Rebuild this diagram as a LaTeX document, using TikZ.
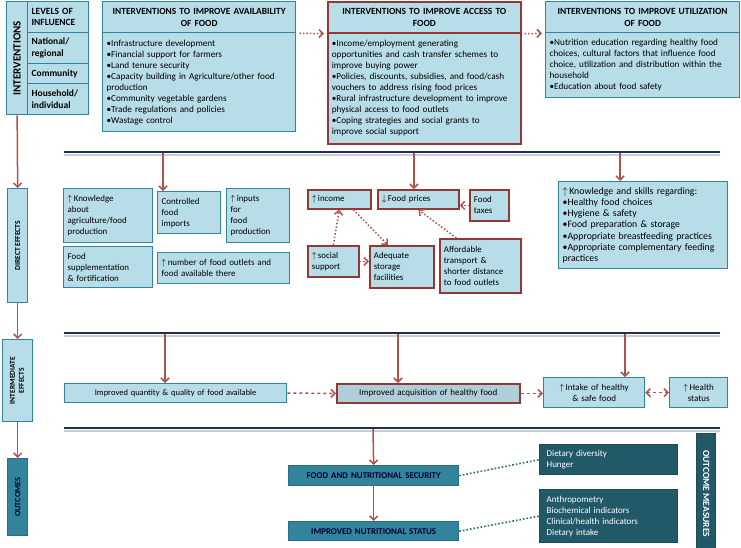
\documentclass[tikz,border=0pt]{standalone}
\usepackage{fontspec}
\setmainfont{Carlito}
\usepackage{graphicx}
\usetikzlibrary{positioning, arrows.meta}
\definecolor{boxfill}{HTML}{B7DDE8}
\definecolor{boxline}{HTML}{31859C}
\definecolor{redline}{HTML}{953735}
\definecolor{arrred}{HTML}{B4504B}
\definecolor{navy}{HTML}{1F2F5C}
\definecolor{midteal}{HTML}{31849B}
\definecolor{darkteal}{HTML}{215968}

\begin{document}
\begin{tikzpicture}[x=1pt, y=-1pt,
    box/.style={
      draw=boxline, line width=1.3pt, fill=boxfill, anchor=north west,
      inner xsep=4pt, inner ysep=1pt, align=left,
      font=\fontsize{9.2}{11}\selectfont
    },
    rbox/.style={box, draw=redline, line width=1.7pt},
    head/.style={box, align=center, font=\bfseries\fontsize{9.4}{12}\selectfont},
    lvlbox/.style={box, text width=53pt, font=\bfseries\fontsize{9.5}{11.5}\selectfont},
    side/.style={box, inner sep=0pt, align=center, font=\bfseries\fontsize{7.5}{9}\selectfont},
    obox/.style={box, fill=midteal, draw=midteal!85!black, text=black!80!blue,
      align=center, font=\bfseries\fontsize{8.9}{10}\selectfont},
    mbox/.style={box, fill=darkteal, draw=darkteal!85!black, text=white,
      inner xsep=7pt, font=\fontsize{9}{11}\selectfont},
    arr/.style={-{Straight Barb[length=4pt, width=8pt]}, arrred, line width=1.5pt},
    dotarr/.style={arr, dotted},
    dasharr/.style={arr, dashed},
    link/.style={boxline!80!black, line width=1.6pt, dotted},
  ]
  \useasboundingbox (0,0) rectangle (741,547);

  % interventions
  \node[side, font=\bfseries\fontsize{11}{12}\selectfont, minimum width=21pt, minimum height=113pt] (intv) at (6,1) {\rotatebox{90}{INTERVENTIONS}};
  \node[lvlbox, minimum height=31pt] (lvl) at (27,1) {LEVELS OF\\INFLUENCE};
  \node[lvlbox, minimum height=31pt] (natl) at (27,32) {National/\\regional};
  \node[lvlbox, minimum height=20pt] (comm) at (27,63) {Community};
  \node[lvlbox, minimum height=31pt] (hh) at (27,83) {Household/\\individual};

  \node[head, text width=185pt, minimum height=31pt] (avh) at (102,1) {INTERVENTIONS TO IMPROVE AVAILABILITY\\OF FOOD};
  \node[box, text width=185pt, minimum height=99pt] (avb) at (102,32) {%
    •Infrastructure development\\•Financial support for farmers\\•Land tenure security\\
    •Capacity building in Agriculture/other food\\production\\•Community vegetable gardens\\
    •Trade regulations and policies\\•Wastage control};
  \node[head, draw=redline, line width=1.7pt, text width=185pt, minimum height=31pt] (ach) at (327,1) {INTERVENTIONS TO IMPROVE ACCESS TO\\FOOD};
  \node[rbox, text width=185pt, minimum height=111pt] (acb) at (327,32) {%
    •Income/employment generating\\opportunities and cash transfer schemes to\\improve buying power\\
    •Policies, discounts, subsidies, and food/cash\\vouchers to address rising food prices\\
    •Rural infrastructure development to improve\\physical access to food outlets\\
    •Coping strategies and social grants to\\improve social support};
  \node[head, text width=186pt, minimum height=31pt] (uth) at (545,1) {INTERVENTIONS TO IMPROVE UTILIZATION\\OF FOOD};
  \node[box, text width=186pt, minimum height=65pt] (utb) at (545,32) {%
    •Nutrition education regarding healthy food\\choices, cultural factors that influence food\\
    choice, utilization and distribution within the\\household\\•Education about food safety};

  \foreach \y in {152, 333, 428} {
    \draw[gray!40, line width=2pt] (64,\y+2.5) -- (720,\y+2.5);
    \draw[navy, line width=2.2pt] (64,\y) -- (720,\y);
  }
  \coordinate (ra) at (163,153);
  \coordinate (rb) at (414,153);
  \coordinate (rc) at (620,153);
  \coordinate (sa) at (165,334);
  \coordinate (sb) at (398,334);
  \coordinate (sc) at (625,334);
  \coordinate (ta) at (373,429);

  % direct effects
  \node[side, font=\bfseries\fontsize{7.6}{9}\selectfont, minimum width=20pt, minimum height=114pt] (de) at (7,188) {\rotatebox{90}{DIRECT EFFECTS}};
  \node[box, font=\fontsize{8.9}{11}\selectfont, text width=81pt, minimum height=54pt] (know) at (63,188) {$\uparrow$\,Knowledge\\about\\agriculture/food\\production};
  \node[box, font=\fontsize{8.9}{11}\selectfont, text width=55pt, minimum height=42pt] (ctrl) at (157,191) {Controlled\\food\\imports};
  \node[box, font=\fontsize{8.9}{11}\selectfont, text width=55pt, minimum height=54pt] (inp) at (226,188) {$\uparrow$\,inputs\\for\\food\\production};
  \node[box, font=\fontsize{8.9}{11}\selectfont, text width=81pt, minimum height=41pt] (supp) at (63,246) {Food\\supplementation\\\& fortification};
  \node[box, font=\fontsize{8.9}{11}\selectfont, text width=124pt, minimum height=31pt] (outl) at (157,252) {$\uparrow$\,number of food outlets and\\food available there};
  \node[rbox, font=\fontsize{8.9}{11}\selectfont, text width=55pt, minimum height=19pt] (inc) at (307,189) {$\uparrow$\,income};
  \node[rbox, font=\fontsize{8.9}{11}\selectfont, text width=73pt, minimum height=19pt] (price) at (377,189) {$\downarrow$\,Food prices};
  \node[rbox, font=\fontsize{8.9}{11}\selectfont, text width=31pt, minimum height=31pt] (tax) at (469,189) {Food\\taxes};
  \node[rbox, font=\fontsize{8.9}{11}\selectfont, text width=43pt, minimum height=31pt] (soc) at (307,245) {$\uparrow$\,social\\support};
  \node[rbox, font=\fontsize{8.9}{11}\selectfont, text width=56pt, minimum height=42pt] (stor) at (369,245) {Adequate\\storage\\facilities};
  \node[rbox, font=\fontsize{8.9}{11}\selectfont, text width=73pt, minimum height=54pt] (trans) at (439,238) {Affordable\\transport \&\\shorter distance\\to food outlets};
  \node[box, font=\fontsize{9.8}{11.2}\selectfont, text width=161pt, minimum height=87pt] (uted) at (558,181) {%
    $\uparrow$\,Knowledge and skills regarding:\\•Healthy food choices\\•Hygiene \& safety\\
    •Food preparation \& storage\\•Appropriate breastfeeding practices\\
    •Appropriate complementary feeding\\practices};

  % intermediate effects
  \node[side, minimum width=30pt, minimum height=82pt] (ie) at (2,339) {\rotatebox{90}{\begin{tabular}{@{}c@{}}INTERMEDIATE\\EFFECTS\end{tabular}}};
  \node[box, align=center, font=\fontsize{8.5}{10}\selectfont, text width=214pt, minimum height=19pt] (quant) at (64,383) {Improved quantity \& quality of food available};
  \node[rbox, fill=boxfill!85!gray, align=center, font=\fontsize{9}{10}\selectfont, text width=175pt, minimum height=19pt] (acq) at (336,383) {Improved acquisition of healthy food};
  \node[box, align=center, font=\fontsize{9}{11}\selectfont, text width=93pt, minimum height=30pt] (intake) at (543,377) {$\uparrow$\,Intake of healthy\\\& safe food};
  \node[box, align=center, font=\fontsize{9}{11}\selectfont, text width=50pt, minimum height=30pt] (health) at (669,377) {$\uparrow$\,Health\\status};

  % outcomes
  \node[obox, minimum width=20pt, minimum height=77pt] (outc) at (7,458) {};
  \node[rotate=90, text=black!80!blue, font=\bfseries\fontsize{8.2}{9}\selectfont] (outct) at (outc.center) {OUTCOMES};
  \node[obox, text width=162pt, minimum height=20pt] (fs) at (288,465) {FOOD AND NUTRITIONAL SECURITY};
  \node[obox, text width=162pt, minimum height=19pt] (ns) at (288,521) {IMPROVED NUTRITIONAL STATUS};
  \node[mbox, text width=124pt, minimum height=30pt] (dd) at (539,444) {Dietary diversity\\Hunger};
  \node[mbox, text width=124pt, minimum height=53pt] (anth) at (539,489) {Anthropometry\\Biochemical indicators\\Clinical/health indicators\\Dietary intake};
  \node[mbox, inner sep=0pt, align=center, font=\bfseries\fontsize{9.5}{10}\selectfont, minimum width=19pt, minimum height=120pt] (om) at (696,433) {\rotatebox{-90}{OUTCOME MEASURES}};

  \draw[dotarr] ([xshift=3pt]avh.south east) -- ([xshift=-3pt]ach.south west);
  \draw[dotarr] ([xshift=3pt]ach.south east) -- ([xshift=-3pt]uth.south west);

  \draw[arr] (intv.south) -- (de.north);
  \draw[arr] (de.south) -- (ie.north);
  \draw[arr] (ie.south) -- (outc.north);

  \draw[arr] (ra) -- (ra |- ctrl.north);
  \draw[arr] (rb) -- (rb |- price.north);
  \draw[arr] (rc) -- (rc |- uted.north);

  \draw[dotarr] (soc.north) -- (inc.south);
  \draw[dotarr] ([xshift=14pt]inc.south) -- ([xshift=-14pt]stor.north);
  \draw[dotarr] (soc.east) -- (soc.east -| stor.west);
  \draw[dotarr] (tax.west) -- (tax.west -| price.east);
  \draw[dotarr] ([xshift=-24pt]trans.north) -- (price.south);

  \draw[arr] (sa) -- (sa |- quant.north);
  \draw[arr] (sb) -- (sb |- acq.north);
  \draw[arr] (sc) -- (sc |- intake.north);
  \draw[dasharr] (quant.east) -- (acq.west);
  \draw[dasharr] (acq.east) -- (acq.east -| intake.west);
  \draw[dasharr, {Straight Barb[length=4pt, width=8pt]}-{Straight Barb[length=4pt, width=8pt]}] (intake.east) -- (health.west);

  \draw[arr] (ta) -- (fs.north);
  \draw[arr] (fs.south) -- (ns.north);
  \draw[link] (fs.east) -- (dd.west);
  \draw[link] (ns.east) -- (anth.west);
\end{tikzpicture}
\end{document}
